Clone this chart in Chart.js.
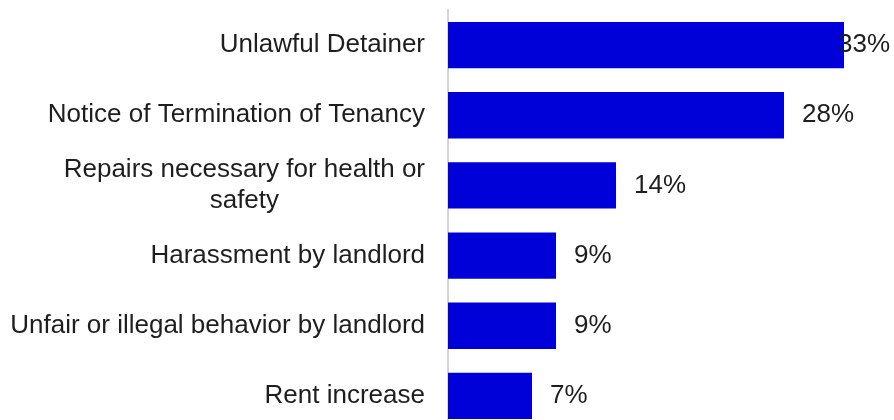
<!DOCTYPE html>
<html>
<head>
<meta charset="utf-8">
<title>Reasons for seeking help</title>
<script src="https://cdn.jsdelivr.net/npm/chart.js@4.4.1/dist/chart.umd.min.js"></script>
<style>
  html, body { margin: 0; padding: 0; background: #fff; overflow: hidden; }
  .chart-wrap { position: relative; width: 894px; height: 432px; }
</style>
</head>
<body>
<div class="chart-wrap"><canvas id="barChart"></canvas></div>
<script>
const CATEGORIES = [
  'Unlawful Detainer',
  'Notice of Termination of Tenancy',
  ['Repairs necessary for health or', 'safety'],
  'Harassment by landlord',
  'Unfair or illegal behavior by landlord',
  'Rent increase',
];
const PERCENTS = [33, 28, 14, 9, 9, 7];
const X_MAX = 37;

const BAR_COLOR = '#0000d8';
const TEXT_COLOR = '#1e1e1e';
const FONT = '26px "Liberation Sans", Arial, sans-serif';
const AXIS_LEFT = 448;
const LINE_HEIGHT = 31;

// category names, right aligned; wrapped lines centered on each other
const categoryLabels = {
  id: 'categoryLabels',
  afterDraw(chart) {
    const { ctx } = chart;
    const y = chart.scales.y;
    const right = y.right - 23;
    ctx.save();
    ctx.font = FONT;
    ctx.fillStyle = TEXT_COLOR;
    ctx.textBaseline = 'middle';
    ctx.textAlign = 'center';
    CATEGORIES.forEach((label, i) => {
      const lines = Array.isArray(label) ? label : [label];
      const cy = y.getPixelForValue(i);
      const widest = Math.max(...lines.map((l) => ctx.measureText(l).width));
      lines.forEach((line, j) => {
        ctx.fillText(line, right - widest / 2, cy + (j - (lines.length - 1) / 2) * LINE_HEIGHT);
      });
    });
    ctx.restore();
  },
};

// percentage after each bar, pulled back inside the canvas when it would overflow
const valueLabels = {
  id: 'valueLabels',
  afterDatasetsDraw(chart) {
    const { ctx } = chart;
    const meta = chart.getDatasetMeta(0);
    ctx.save();
    ctx.font = FONT;
    ctx.fillStyle = TEXT_COLOR;
    ctx.textBaseline = 'middle';
    ctx.textAlign = 'left';
    meta.data.forEach((bar, i) => {
      const text = `${PERCENTS[i]}%`;
      const w = ctx.measureText(text).width;
      const x = Math.min(bar.x + 18, chart.width - 4 - w);
      ctx.fillText(text, x, bar.y);
    });
    ctx.restore();
  },
};

const ctx = document.getElementById('barChart').getContext('2d');
new Chart(ctx, {
  type: 'bar',
  data: {
    labels: CATEGORIES,
    datasets: [{
      data: PERCENTS,
      backgroundColor: BAR_COLOR,
      borderWidth: 0,
      categoryPercentage: 1,
      barPercentage: 0.66,
    }],
  },
  options: {
    indexAxis: 'y',
    responsive: true,
    maintainAspectRatio: false,
    animation: false,
    layout: { padding: { top: 10, right: 2, bottom: 1, left: 0 } },
    plugins: {
      legend: { display: false },
      tooltip: { enabled: false },
    },
    scales: {
      x: { display: false, min: 0, max: X_MAX },
      y: {
        ticks: { display: false },
        grid: { display: false },
        border: { display: true, color: '#d4d4d4', width: 2 },
        afterFit: (scale) => { scale.width = AXIS_LEFT; },
      },
    },
  },
  plugins: [categoryLabels, valueLabels],
});
</script>
</body>
</html>
